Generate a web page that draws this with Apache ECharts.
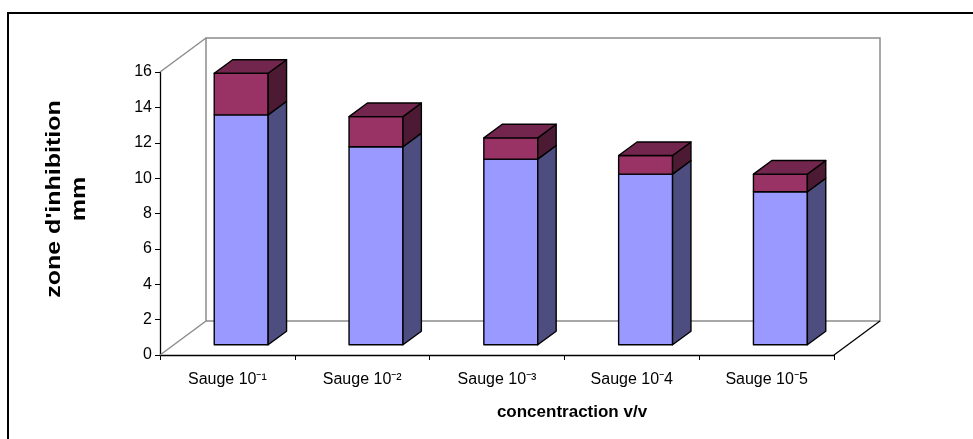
<!DOCTYPE html>
<html>
<head>
<meta charset="utf-8">
<script src="https://cdn.jsdelivr.net/npm/echarts@6/dist/echarts.min.js"></script>
<style>
  html, body { margin: 0; padding: 0; background: #ffffff; }
  #chart { width: 973px; height: 439px; }
</style>
</head>
<body>
<div id="chart"></div>
<script>
// Concentrations tested (x axis)
const categories = ['Sauge 10\u207B\u00B9', 'Sauge 10\u207B\u00B2', 'Sauge 10\u207B\u00B3', 'Sauge 10\u207B4', 'Sauge 10\u207B5'];
// Lower (blue) segment of each stacked column, mm
const baseValues = [13.0, 11.2, 10.5, 9.65, 8.65];
// Upper (purple) segment stacked on top, mm
const capValues = [2.35, 1.7, 1.2, 1.05, 1.0];
// Value axis range and step
const yMin = 0, yMax = 16, yStep = 2;

// Oblique projection of the depth direction (pixels for the full box depth)
const DEPTH_X = 46, DEPTH_Y = -34;
// Columns sit between 30% and 70% of the box depth and fill 40% of a band
const BAR_FRONT = 0.3, BAR_DEPTH = 0.4, BAR_WIDTH = 0.4;

const blueFace = '#9999ff', blueSide = '#4d4d80', blueTop = '#7373bf';
const redFace = '#993366', redSide = '#4d1a33', redTop = '#73264d';

const lowerData = categories.map((c, i) => [i, 0, baseValues[i], 0]);
const upperData = categories.map((c, i) => [i, baseValues[i], baseValues[i] + capValues[i], 1]);

function makeBarRenderer(face, side, top) {
  return function (params, api) {
    const i = api.value(0), v0 = api.value(1), v1 = api.value(2), isTop = api.value(3);
    const band = api.size([1, 0])[0];
    const p0 = api.coord([i, v0]);
    const p1 = api.coord([i, v1]);
    const w = band * BAR_WIDTH;
    const ox = DEPTH_X * BAR_FRONT, oy = DEPTH_Y * BAR_FRONT;
    const dx = DEPTH_X * BAR_DEPTH, dy = DEPTH_Y * BAR_DEPTH;
    const L = p0[0] - w / 2 + ox, R = L + w;
    const yb = p0[1] + oy, yt = p1[1] + oy;
    const stroke = { stroke: '#000', lineWidth: 1.4, lineJoin: 'round' };
    const children = [
      { type: 'polygon', shape: { points: [[L, yb], [R, yb], [R, yt], [L, yt]] },
        style: Object.assign({ fill: face }, stroke) },
      { type: 'polygon', shape: { points: [[R, yb], [R + dx, yb + dy], [R + dx, yt + dy], [R, yt]] },
        style: Object.assign({ fill: side }, stroke) }
    ];
    if (isTop) {
      children.push({ type: 'polygon', shape: { points: [[L, yt], [R, yt], [R + dx, yt + dy], [L + dx, yt + dy]] },
        style: Object.assign({ fill: top }, stroke) });
    }
    return { type: 'group', children: children };
  };
}

function renderWalls(params, api) {
  const cs = params.coordSys;
  const x = cs.x, y = cs.y, w = cs.width, h = cs.height;
  const grey = { stroke: '#8c8c8c', lineWidth: 1.5, fill: null };
  return {
    type: 'group',
    children: [
      { type: 'polyline', shape: { points: [[x + DEPTH_X, y + h + DEPTH_Y], [x + DEPTH_X, y + DEPTH_Y], [x + w + DEPTH_X, y + DEPTH_Y], [x + w + DEPTH_X, y + h + DEPTH_Y], [x + DEPTH_X, y + h + DEPTH_Y]] }, style: grey },
      { type: 'line', shape: { x1: x, y1: y, x2: x + DEPTH_X, y2: y + DEPTH_Y }, style: grey },
      { type: 'line', shape: { x1: x, y1: y + h, x2: x + DEPTH_X, y2: y + h + DEPTH_Y }, style: grey },
      { type: 'line', shape: { x1: x + w, y1: y + h, x2: x + w + DEPTH_X, y2: y + h + DEPTH_Y }, style: { stroke: '#000', lineWidth: 1.3 } }
    ]
  };
}

const chart = echarts.init(document.getElementById('chart'), null, { renderer: 'canvas' });
const font = 'Liberation Sans, Arial, sans-serif';

chart.setOption({
  backgroundColor: '#ffffff',
  animation: false,
  grid: { left: 160, top: 72, right: 139, bottom: 84 },
  xAxis: {
    type: 'category',
    data: categories,
    axisLine: { lineStyle: { color: '#000', width: 1.3 } },
    axisTick: { show: true, length: 5, lineStyle: { color: '#000' } },
    axisLabel: { color: '#000', fontFamily: font, fontSize: 16, margin: 17 },
    splitLine: { show: false }
  },
  yAxis: {
    type: 'value',
    min: yMin, max: yMax, interval: yStep,
    axisLine: { show: true, lineStyle: { color: '#000', width: 1.3 } },
    axisTick: { show: true, length: 5, lineStyle: { color: '#000' } },
    axisLabel: { color: '#000', fontFamily: font, fontSize: 16, margin: 8 },
    splitLine: { show: false }
  },
  graphic: [
    { type: 'rect', shape: { x: 8, y: 13, width: 1000, height: 500 },
      style: { fill: null, stroke: '#000', lineWidth: 2 }, silent: true },
    { type: 'text', x: 67, y: 199, rotation: Math.PI / 2, scaleX: 1.25,
      style: { text: "zone d'inhibition\nmm", fill: '#000', font: 'bold 20px ' + font,
        textAlign: 'center', textVerticalAlign: 'middle', lineHeight: 25 } },
    { type: 'text', x: 572, y: 412,
      style: { text: 'concentraction v/v', fill: '#000', font: 'bold 17px ' + font,
        textAlign: 'center', textVerticalAlign: 'middle' } }
  ],
  series: [
    { type: 'custom', name: 'walls', data: [[0, 0]], renderItem: renderWalls, z: 1, silent: true, clip: false },
    { type: 'custom', name: 'base', data: lowerData, encode: { x: 0, y: [1, 2] },
      renderItem: makeBarRenderer(blueFace, blueSide, blueTop), z: 3, clip: false },
    { type: 'custom', name: 'cap', data: upperData, encode: { x: 0, y: [1, 2] },
      renderItem: makeBarRenderer(redFace, redSide, redTop), z: 4, clip: false }
  ]
});
</script>
</body>
</html>
